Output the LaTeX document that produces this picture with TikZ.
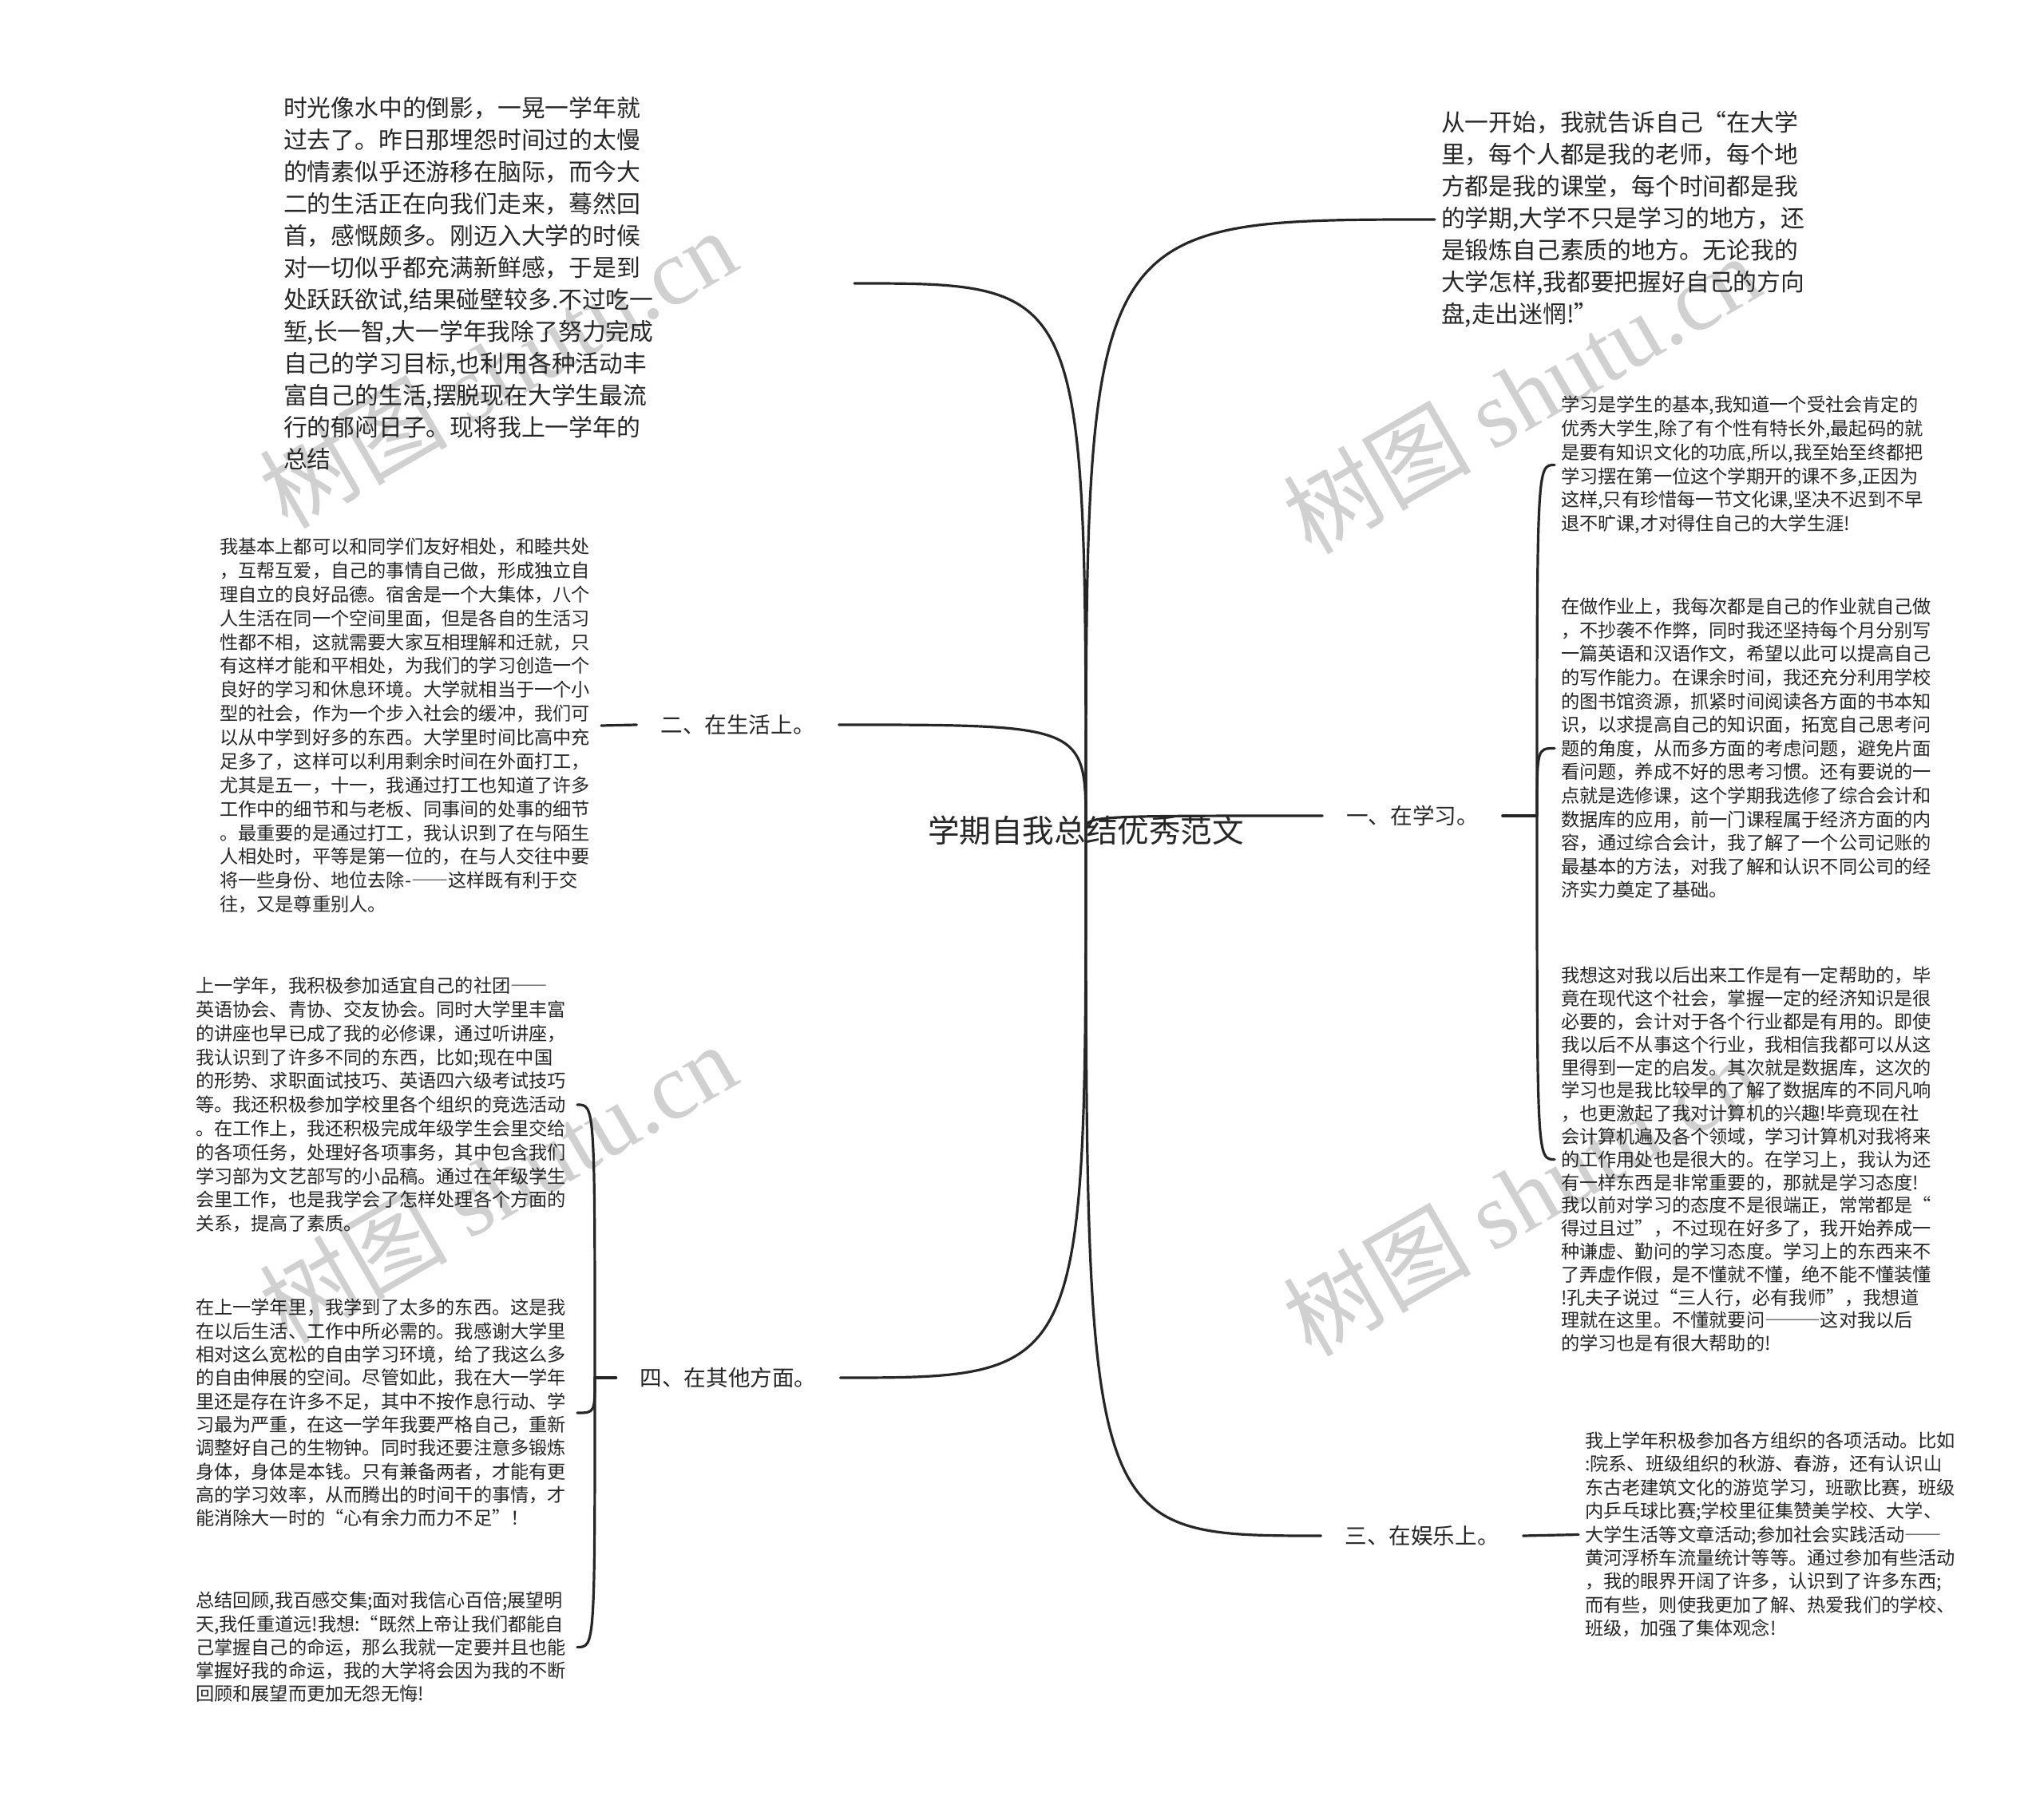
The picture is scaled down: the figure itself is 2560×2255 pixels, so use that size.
\documentclass[tikz,border=0pt]{standalone}
\usepackage{fontspec}
\setmainfont{Noto Sans CJK SC}
\newfontfamily\wmlatin{Liberation Serif}
\newcommand{\fwdash}[1]{{\addfontfeature{CharacterWidth=Full}#1}}
\definecolor{ink}{HTML}{262626}
\definecolor{wmgray}{HTML}{D0D0D0}
\setlength{\parindent}{0pt}
\begin{document}
\begin{tikzpicture}[x=0.25pt,y=-0.25pt,
  every node/.style={inner sep=0pt,outer sep=0pt,text=ink},
  conn/.style={draw=ink,line width=0.8pt,line cap=round},
  bigtxt/.style={anchor=west,align=left,inner xsep=2pt,font=\fontsize{7.45pt}{10pt}\selectfont},
  smalltxt/.style={anchor=west,align=left,inner xsep=2pt,text width=117.5pt,font=\fontsize{5.8pt}{#1}\selectfont},
  branch/.style={inner xsep=7.5pt,font=\fontsize{6.9pt}{8pt}\selectfont},
  wm/.style={text=wmgray,rotate=30,anchor=base west,font=\fontsize{29.5pt}{32pt}\selectfont}]
\useasboundingbox (0,0) rectangle (2560,2255);

% watermarks
\node[wm] (wm1) at (360,665) {树图 {\wmlatin shutu.cn}};
\node[wm] (wm2) at (1642,697) {树图 {\wmlatin shutu.cn}};
\node[wm] (wm3) at (360,1685) {树图 {\wmlatin shutu.cn}};
\node[wm] (wm4) at (1642,1701) {树图 {\wmlatin shutu.cn}};

% root and branches
\node[font=\fontsize{9.9pt}{12pt}\selectfont] (root) at (1360,1040) {学期自我总结优秀范文};
\node[branch] (lab1) at (1769,1022) {一、在学习。};
\node[branch] (lab2) at (924,908) {二、在生活上。};
\node[branch] (lab3) at (1781,1924) {三、在娱乐上。};
\node[branch] (lab4) at (912,1726) {四、在其他方面。};
\coordinate (j1) at (1925,1022);
\coordinate (j4) at (745,1726);

% text blocks
\node[bigtxt,text width=176.75pt] (t0) at (347,355) {%
时光像水中的倒影，一晃一学年就\\%
过去了。昨日那埋怨时间过的太慢\\%
的情素似乎还游移在脑际，而今大\\%
二的生活正在向我们走来，蓦然回\\%
首，感慨颇多。刚迈入大学的时候\\%
对一切似乎都充满新鲜感，于是到\\%
处跃跃欲试,结果碰壁较多.不过吃一\\%
堑,长一智,大一学年我除了努力完成\\%
自己的学习目标,也利用各种活动丰\\%
富自己的生活,摆脱现在大学生最流\\%
行的郁闷日子。现将我上一学年的\\%
总结};

\node[bigtxt,text width=122pt] (t1) at (1797,275) {%
从一开始，我就告诉自己“在大学\\%
里，每个人都是我的老师，每个地\\%
方都是我的课堂，每个时间都是我\\%
的学期,大学不只是学习的地方，还\\%
是锻炼自己素质的地方。无论我的\\%
大学怎样,我都要把握好自己的方向\\%
盘,走出迷惘!”};

\node[smalltxt=7.47pt] (l1) at (267,909) {%
我基本上都可以和同学们友好相处，和睦共处\\%
，互帮互爱，自己的事情自己做，形成独立自\\%
理自立的良好品德。宿舍是一个大集体，八个\\%
人生活在同一个空间里面，但是各自的生活习\\%
性都不相，这就需要大家互相理解和迁就，只\\%
有这样才能和平相处，为我们的学习创造一个\\%
良好的学习和休息环境。大学就相当于一个小\\%
型的社会，作为一个步入社会的缓冲，我们可\\%
以从中学到好多的东西。大学里时间比高中充\\%
足多了，这样可以利用剩余时间在外面打工，\\%
尤其是五一，十一，我通过打工也知道了许多\\%
工作中的细节和与老板、同事间的处事的细节\\%
。最重要的是通过打工，我认识到了在与陌生\\%
人相处时，平等是第一位的，在与人交往中要\\%
将一些身份、地位去除-\fwdash{——}这样既有利于交\\%
往，又是尊重别人。};

\node[smalltxt=7.45pt] (o1) at (237,1384) {%
上一学年，我积极参加适宜自己的社团\fwdash{——}\\%
英语协会、青协、交友协会。同时大学里丰富\\%
的讲座也早已成了我的必修课，通过听讲座，\\%
我认识到了许多不同的东西，比如;现在中国\\%
的形势、求职面试技巧、英语四六级考试技巧\\%
等。我还积极参加学校里各个组织的竞选活动\\%
。在工作上，我还积极完成年级学生会里交给\\%
的各项任务，处理好各项事务，其中包含我们\\%
学习部为文艺部写的小品稿。通过在年级学生\\%
会里工作，也是我学会了怎样处理各个方面的\\%
关系，提高了素质。};

\node[smalltxt=7.33pt] (o2) at (237,1770) {%
在上一学年里，我学到了太多的东西。这是我\\%
在以后生活、工作中所必需的。我感谢大学里\\%
相对这么宽松的自由学习环境，给了我这么多\\%
的自由伸展的空间。尽管如此，我在大一学年\\%
里还是存在许多不足，其中不按作息行动、学\\%
习最为严重，在这一学年我要严格自己，重新\\%
调整好自己的生物钟。同时我还要注意多锻炼\\%
身体，身体是本钱。只有兼备两者，才能有更\\%
高的学习效率，从而腾出的时间干的事情，才\\%
能消除大一时的“心有余力而力不足”！};

\node[smalltxt=7.31pt] (o3) at (237,2063.5) {%
总结回顾,我百感交集;面对我信心百倍;展望明\\%
天,我任重道远!我想:“既然上帝让我们都能自\\%
己掌握自己的命运，那么我就一定要并且也能\\%
掌握好我的命运，我的大学将会因为我的不断\\%
回顾和展望而更加无怨无悔!};

\node[smalltxt=7.45pt] (s1) at (1947,582.5) {%
学习是学生的基本,我知道一个受社会肯定的\\%
优秀大学生,除了有个性有特长外,最起码的就\\%
是要有知识文化的功底,所以,我至始至终都把\\%
学习摆在第一位这个学期开的课不多,正因为\\%
这样,只有珍惜每一节文化课,坚决不迟到不早\\%
退不旷课,才对得住自己的大学生涯!};

\node[smalltxt=7.4pt] (s2) at (1947,937.5) {%
在做作业上，我每次都是自己的作业就自己做\\%
，不抄袭不作弊，同时我还坚持每个月分别写\\%
一篇英语和汉语作文，希望以此可以提高自己\\%
的写作能力。在课余时间，我还充分利用学校\\%
的图书馆资源，抓紧时间阅读各方面的书本知\\%
识，以求提高自己的知识面，拓宽自己思考问\\%
题的角度，从而多方面的考虑问题，避免片面\\%
看问题，养成不好的思考习惯。还有要说的一\\%
点就是选修课，这个学期我选修了综合会计和\\%
数据库的应用，前一门课程属于经济方面的内\\%
容，通过综合会计，我了解了一个公司记账的\\%
最基本的方法，对我了解和认识不同公司的经\\%
济实力奠定了基础。};

\node[smalltxt=7.2pt] (s3) at (1947,1452.5) {%
我想这对我以后出来工作是有一定帮助的，毕\\%
竟在现代这个社会，掌握一定的经济知识是很\\%
必要的，会计对于各个行业都是有用的。即使\\%
我以后不从事这个行业，我相信我都可以从这\\%
里得到一定的启发。其次就是数据库，这次的\\%
学习也是我比较早的了解了数据库的不同凡响\\%
，也更激起了我对计算机的兴趣!毕竟现在社\\%
会计算机遍及各个领域，学习计算机对我将来\\%
的工作用处也是很大的。在学习上，我认为还\\%
有一样东西是非常重要的，那就是学习态度!\\%
我以前对学习的态度不是很端正，常常都是“\\%
得过且过”，不过现在好多了，我开始养成一\\%
种谦虚、勤问的学习态度。学习上的东西来不\\%
了弄虚作假，是不懂就不懂，绝不能不懂装懂\\%
!孔夫子说过“三人行，必有我师”，我想道\\%
理就在这里。不懂就要问\fwdash{———}这对我以后\\%
的学习也是有很大帮助的!};

\node[smalltxt=7.35pt] (e1) at (1977,1922.5) {%
我上学年积极参加各方组织的各项活动。比如\\%
:院系、班级组织的秋游、春游，还有认识山\\%
东古老建筑文化的游览学习，班歌比赛，班级\\%
内乒乓球比赛;学校里征集赞美学校、大学、\\%
大学生活等文章活动;参加社会实践活动\fwdash{——}\\%
黄河浮桥车流量统计等等。通过参加有些活动\\%
，我的眼界开阔了许多，认识到了许多东西;\\%
而有些，则使我更加了解、热爱我们的学校、\\%
班级，加强了集体观念!};

% connectors from root
\draw[conn] (root.center) .. controls (root.center |- t0.east) .. (t0.east);
\draw[conn] (root.center) .. controls (root.center |- t1.west) .. (t1.west);
\draw[conn] (root.center) .. controls (root.center |- lab2.east) .. (lab2.east);
\draw[conn] (root.center) .. controls (root.center |- lab4.east) .. (lab4.east);
\draw[conn] (root.center) .. controls (root.center |- lab1.west) .. (lab1.west);
\draw[conn] (root.center) .. controls (root.center |- lab3.west) .. (lab3.west);

% branch to children
\draw[conn] (lab2.west) -- (l1.east);
\draw[conn] (lab3.east) -- (e1.west);
\draw[conn] (lab1.east) -- (j1);
\draw[conn] (j1) .. controls (j1 |- s1.west) .. (s1.west);
\draw[conn] (j1) .. controls (j1 |- s2.west) .. (s2.west);
\draw[conn] (j1) .. controls (j1 |- s3.west) .. (s3.west);
\draw[conn] (lab4.west) -- (j4);
\draw[conn] (j4) .. controls (j4 |- o1.east) .. (o1.east);
\draw[conn] (j4) .. controls (j4 |- o2.east) .. (o2.east);
\draw[conn] (j4) .. controls (j4 |- o3.east) .. (o3.east);
\end{tikzpicture}
\end{document}
